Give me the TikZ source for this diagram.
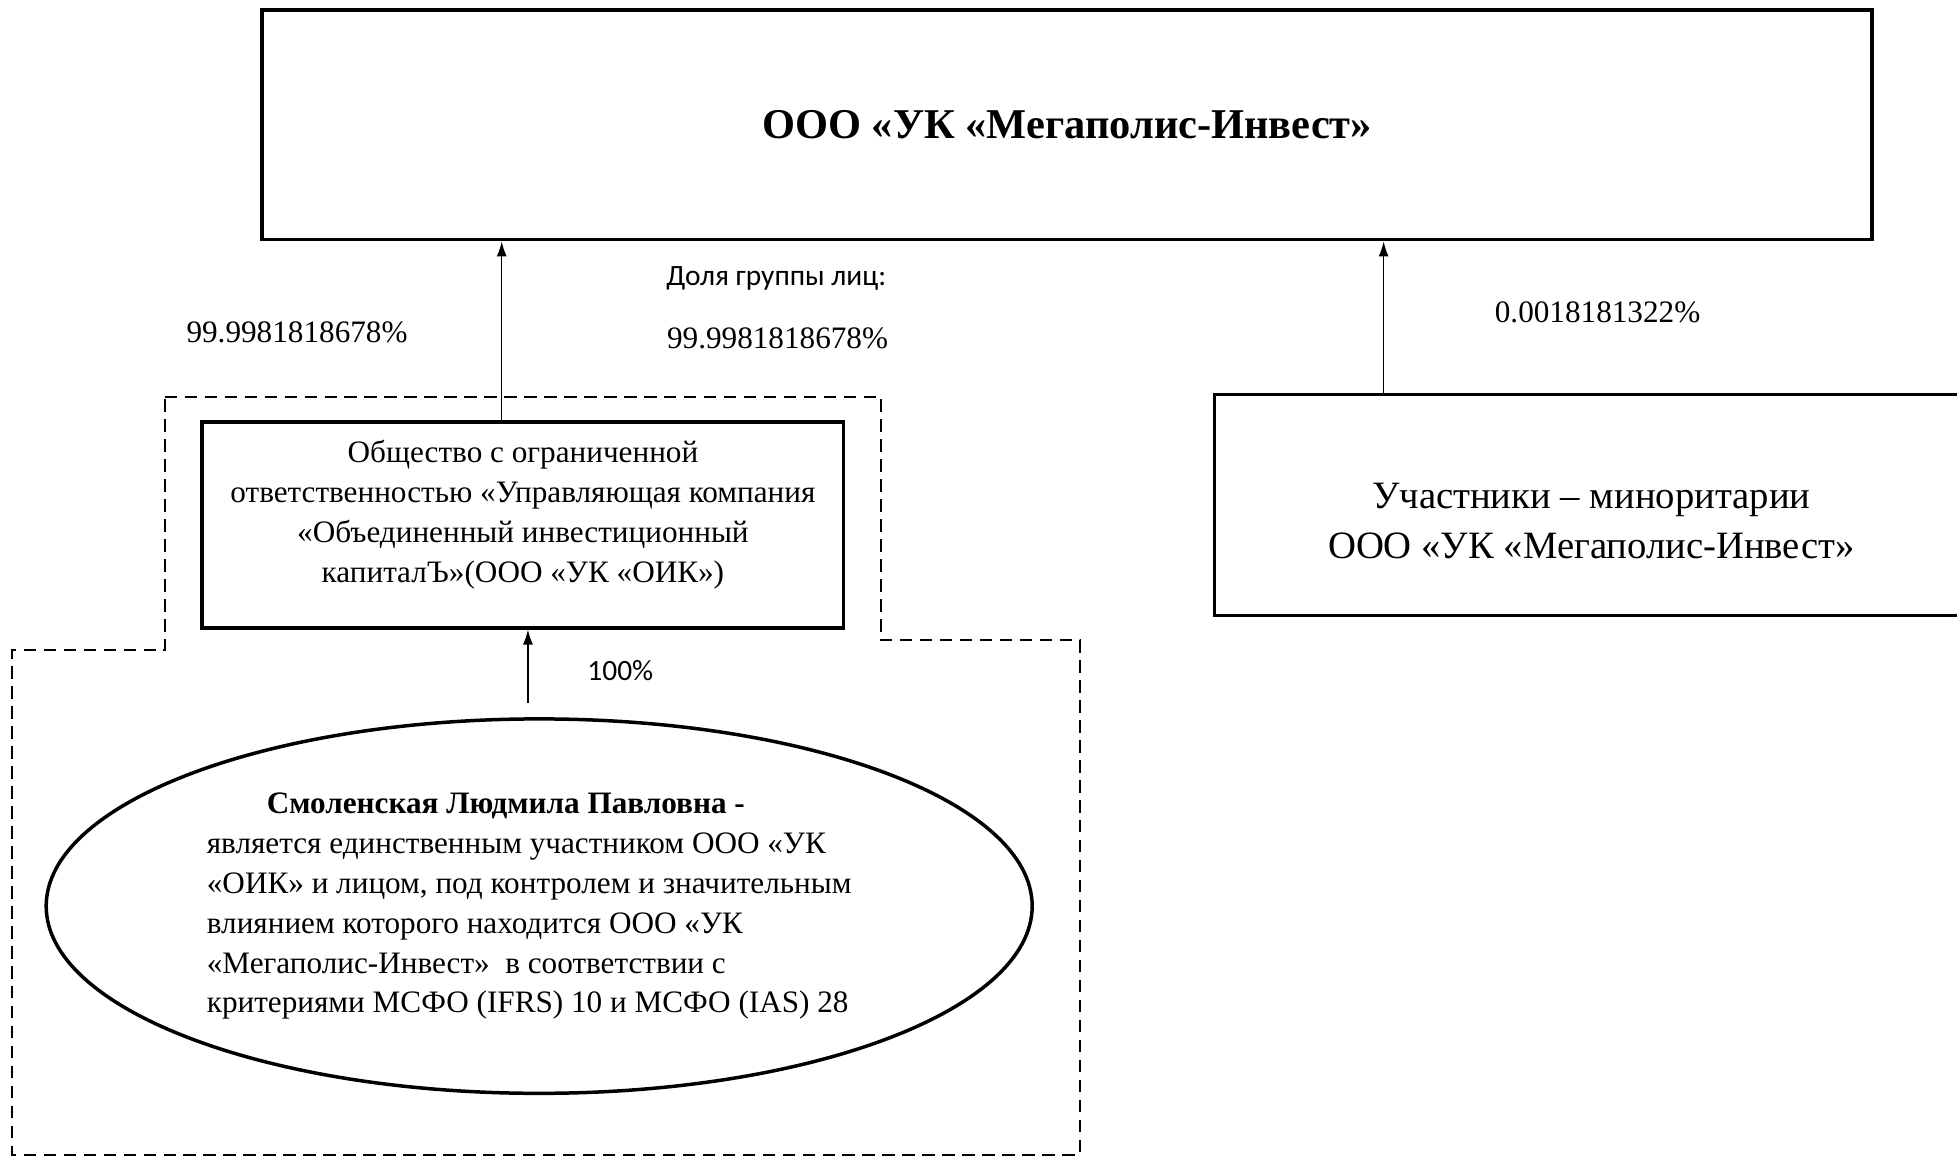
\documentclass[tikz,border=0pt]{standalone}
\usepackage{fontspec}
\setmainfont{Liberation Serif}
\newfontfamily\calfont{Carlito}
\usepackage{tikz}
\usetikzlibrary{arrows,arrows.meta,shapes,positioning,calc}
\tikzstyle{line} = [draw, line width=0.6pt, -{Latex[length=6pt,width=4pt]}]
\tikzstyle{orgbox} = [draw, line width=1.4pt, rectangle, align=center, inner sep=0pt]
\tikzstyle{share} = [inner sep=0pt, font=\fontsize{12.5}{15}\selectfont]
\tikzstyle{note} = [inner sep=0pt, font=\calfont\fontsize{11.8}{14}\selectfont]

\begin{document}
\begin{tikzpicture}[x=0.5pt,y=-0.5pt]
   		%\draw[help lines,step=50] (0,0) grid (1568,927); %Hilfsgitter
   		\useasboundingbox (0,0) rectangle (1568,927);
   		\node (mega)  [orgbox, minimum width=645pt, minimum height=92pt,
   		               font=\fontsize{17}{20}\selectfont\bfseries] at (855,100)
   		               {ООО «УК «Мегаполис-Инвест»}; % top company
   		\node (oik)   [orgbox, minimum width=257pt, minimum height=82.5pt, text depth=11pt,
   		               font=\fontsize{12.5}{16}\selectfont] at (419,420.5)
   		               {Общество с ограниченной\\ответственностью «Управляющая компания\\«Объединенный инвестиционный\\капиталЪ»(ООО «УК «ОИК»)}; % OIK
   		\node (minor) [orgbox, minimum width=302pt, minimum height=88.5pt, text height=43.3pt,
   		               font=\fontsize{15.5}{20}\selectfont] at (1275,404.5)
   		               {Участники – миноритарии\\ООО «УК «Мегаполис-Инвест»}; % minority
   		\node (person)[draw, ellipse, line width=1.4pt, minimum width=395pt, minimum height=150pt,
   		               inner sep=0pt, align=left, font=\fontsize{12.5}{16}\selectfont] at (432,726)
   		               {\hspace*{24pt}\textbf{Смоленская Людмила Павловна -}\\является единственным участником ООО «УК\\«ОИК» и лицом, под контролем и значительным\rule{8pt}{0pt}\\влиянием которого находится ООО «УК\\«Мегаполис-Инвест»~ в соответствии с\\критериями МСФО (IFRS) 10 и МСФО (IAS) 28}; % owner
   		
   		\draw[dashed, line width=0.8pt, dash pattern=on 5pt off 3pt]
   		      (132,318) -- (706,318) -- (706,513) -- (865,513) -- (865,925)
   		      -- (10,925) -- (10,521) -- (132,521) -- cycle; % group of persons
   		
   		\coordinate (tail) at (423,563);
   		\draw[line] ([xshift=-8.5pt]oik.north) -- ([xshift=-8.5pt]oik.north |- mega.south); % OIK share
   		\draw[line] ([xshift=68.5pt]minor.north west) -- ([xshift=68.5pt]minor.north west |- mega.south); % minority share
   		\draw[line] (tail) -- (tail |- oik.south); % 100%
   		
   		\node (s1)    [share] at (238,266)  {99.9981818678\%};
   		\node (grp)   [note]  at (622,223)  {Доля группы лиц:};
   		\node (s2)    [share] at (623,271)  {99.9981818678\%};
   		\node (s3)    [share] at (1280,250) {0.0018181322\%};
   		\node (full)  [note]  at (497,537)  {100\%};
\end{tikzpicture}
\end{document}
